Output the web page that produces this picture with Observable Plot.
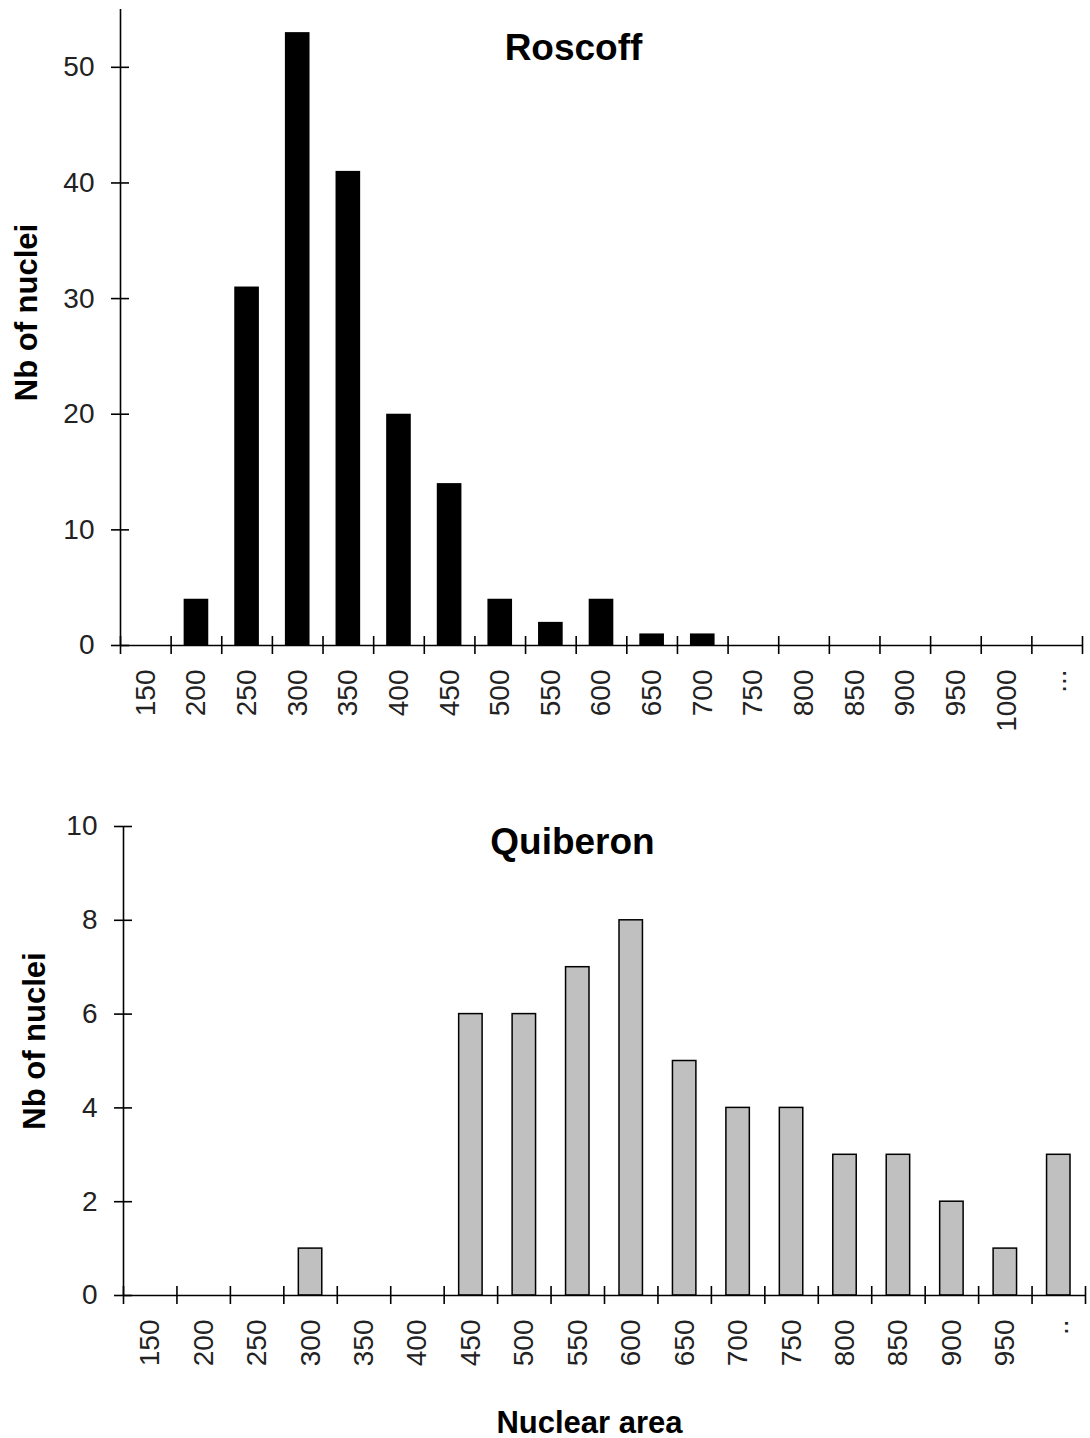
<!DOCTYPE html>
<html>
<head>
<meta charset="utf-8">
<script src="https://cdn.jsdelivr.net/npm/d3@7"></script>
<script src="https://cdn.jsdelivr.net/npm/@observablehq/plot@0.6"></script>
<style>
  html, body { margin: 0; padding: 0; background: #fff; }
  #wrap { width: 1090px; height: 1438px; overflow: hidden; }
  svg { display: block; }
</style>
</head>
<body>
<div id="wrap"></div>
<script>
// ---- data ----
const roscoffCategories = ["150","200","250","300","350","400","450","500","550","600","650","700","750","800","850","900","950","1000","..."];
const roscoffCounts     = [0, 4, 31, 53, 41, 20, 14, 4, 2, 4, 1, 1, 0, 0, 0, 0, 0, 0, 0];
const roscoffYTicks     = [0, 10, 20, 30, 40, 50];

const quiberonCategories = ["150","200","250","300","350","400","450","500","550","600","650","700","750","800","850","900","950",".."];
const quiberonCounts     = [0, 0, 0, 1, 0, 0, 6, 6, 7, 8, 5, 4, 4, 3, 3, 2, 1, 3];
const quiberonYTicks     = [0, 2, 4, 6, 8, 10];

const FONT = "'Liberation Sans', Arial, Helvetica, sans-serif";

function panel(cfg) {
  const {cats, counts, yTicks, yMax, width, height, ml, mr, mt, mb, barFill, barStroke, inset,
         title, titleDx, titleDy, yLabelDx, yLabelDy, xLabel, xLabelDx, xLabelDy} = cfg;
  const n = cats.length;
  const fw = width - ml - mr;
  const fh = height - mt - mb;
  const data = cats.map((c, i) => ({cat: c, v: counts[i], i}));
  const marks = [
    Plot.rect(data.filter(d => d.v > 0), {
      x1: d => d.i, x2: d => d.i + 1, y1: 0, y2: "v",
      insetLeft: inset, insetRight: inset,
      fill: barFill, stroke: barStroke, strokeWidth: barStroke ? 1.5 : 0
    }),
    Plot.ruleY([0], {stroke: "#000", strokeWidth: 1.6}),
    Plot.ruleX([0], {stroke: "#000", strokeWidth: 1.6}),
    Plot.tickX(d3.range(n + 1), {x: d => d, insetTop: fh - 9, insetBottom: -9, stroke: "#000", strokeWidth: 1.6}),
    Plot.tickY(yTicks, {y: d => d, insetLeft: -9, insetRight: fw - 9, stroke: "#000", strokeWidth: 1.6}),
    Plot.axisY(yTicks, {tickSize: 0, tickPadding: 26, fontSize: 28, fill: "#222", label: null}),
    Plot.text(data, {
      x: d => d.i + 0.5, y: () => 0, text: "cat", rotate: -90,
      textAnchor: "end", lineAnchor: "middle", dy: 24, fontSize: 28, fill: "#222"
    }),
    Plot.text([title], {frameAnchor: "top", text: d => d, dx: titleDx, dy: titleDy,
      lineAnchor: "bottom", fontSize: 37, fontWeight: "bold", fill: "#000"}),
    Plot.text(["Nb of nuclei"], {frameAnchor: "left", text: d => d, rotate: -90, dx: yLabelDx, dy: yLabelDy,
      textAnchor: "middle", lineAnchor: "middle", fontSize: 31, fontWeight: "bold", fill: "#000"})
  ];
  if (xLabel) {
    marks.push(Plot.text([xLabel], {frameAnchor: "bottom", text: d => d, dx: xLabelDx, dy: xLabelDy,
      lineAnchor: "bottom", fontSize: 31, fontWeight: "bold", fill: "#000"}));
  }
  return Plot.plot({
    width, height,
    marginLeft: ml, marginRight: mr, marginTop: mt, marginBottom: mb,
    style: {fontFamily: FONT, background: "#fff", overflow: "visible"},
    x: {domain: [0, n], axis: null},
    y: {domain: [0, yMax], axis: null},
    marks
  });
}

const wrap = document.getElementById("wrap");

wrap.appendChild(panel({
  cats: roscoffCategories, counts: roscoffCounts, yTicks: roscoffYTicks, yMax: 55,
  width: 1090, height: 760, ml: 120, mr: 8, mt: 9, mb: 115,
  barFill: "#000", barStroke: null, inset: 13,
  title: "Roscoff", titleDx: -28, titleDy: 50,
  yLabelDx: -93, yLabelDy: -15
}));

wrap.appendChild(panel({
  cats: quiberonCategories, counts: quiberonCounts, yTicks: quiberonYTicks, yMax: 10,
  width: 1090, height: 678, ml: 123, mr: 5, mt: 66, mb: 143,
  barFill: "#c0c0c0", barStroke: "#000", inset: 15,
  title: "Quiberon", titleDx: -32, titleDy: 27,
  yLabelDx: -88, yLabelDy: -20,
  xLabel: "Nuclear area", xLabelDx: -15, xLabelDy: 137
}));
</script>
</body>
</html>
